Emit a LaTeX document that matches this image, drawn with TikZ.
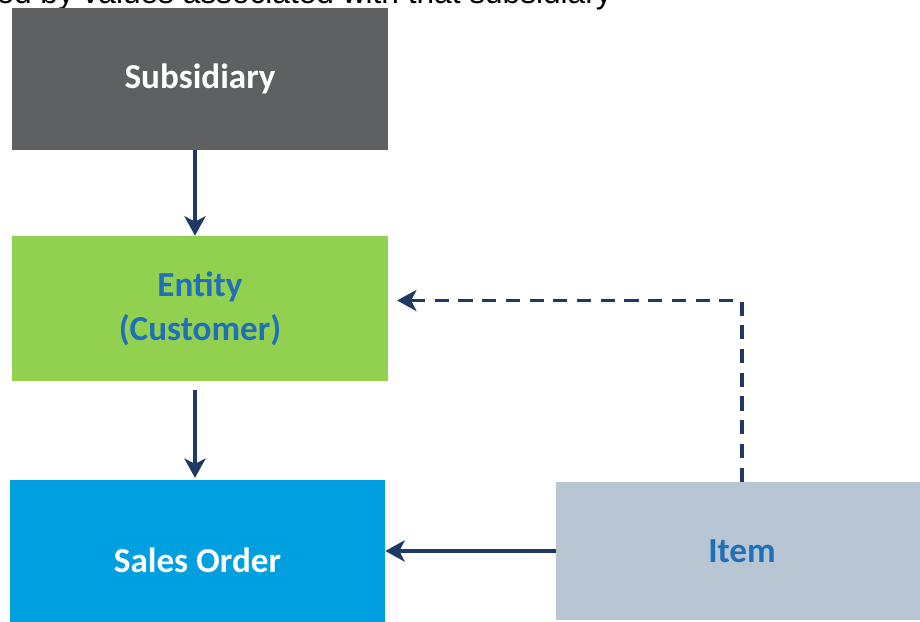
\documentclass[tikz,border=0pt]{standalone}
\usepackage{fontspec}
\setmainfont{Carlito}
\newfontfamily\notefont{Liberation Sans}
\usetikzlibrary{
  arrows.meta,
  positioning,
  calc
}
\definecolor{subgray}{RGB}{95,96,98}
\definecolor{entgreen}{RGB}{146,208,80}
\definecolor{salesblue}{RGB}{0,159,223}
\definecolor{itemgray}{RGB}{184,197,211}
\definecolor{labelblue}{RGB}{31,112,184}
\definecolor{navy}{RGB}{31,56,100}

\begin{document}
\begin{tikzpicture}[
  x=0.02cm, y=-0.02cm,
  every node/.style={font=\fontsize{20}{25}\selectfont\bfseries},
  flowbox/.style={inner sep=0pt, align=center, minimum width=7.52cm},
  flowarr/.style={-{Stealth[length=11pt, width=12pt, inset=3pt]}, line width=2.2pt, draw=navy},
  dasharr/.style={flowarr, line width=1.8pt, dash pattern=on 8pt off 5.5pt},
  >=Stealth
]
\useasboundingbox (0,0) rectangle (920,622);

\node[font=\notefont\fontsize{18}{22}\selectfont, anchor=base east] (note) at (618,4)
  {ed by values associated with that subsidiary};

\node[flowbox, fill=subgray, text=white, minimum height=2.84cm] (subsidiary) at (200,79)
  {Subsidiary};

\node[flowbox, fill=entgreen, text=labelblue, minimum height=2.9cm] (entity) at (200,308.5)
  {Entity\\(Customer)};

\node[flowbox, fill=salesblue, text=white, minimum width=7.5cm, minimum height=3.2cm] (sales) at (197.5,560)
  {Sales Order};

\node[flowbox, fill=itemgray, text=labelblue, minimum width=7.44cm, minimum height=2.76cm] (item) at (742,551)
  {Item};

\draw[flowarr] (subsidiary.south -| 195,0) -- (entity.north -| 195,0);
\draw[flowarr, shorten <=0.18cm] (entity.south -| 195,0) -- ([yshift=1pt]sales.north -| 195,0);
\draw[flowarr] (item.west |- 0,551) -- (sales.east |- 0,551);
\draw[dasharr, shorten >=5pt] (item.north) |- ($(entity.east)+(0,-8)$);

\end{tikzpicture}
\end{document}
